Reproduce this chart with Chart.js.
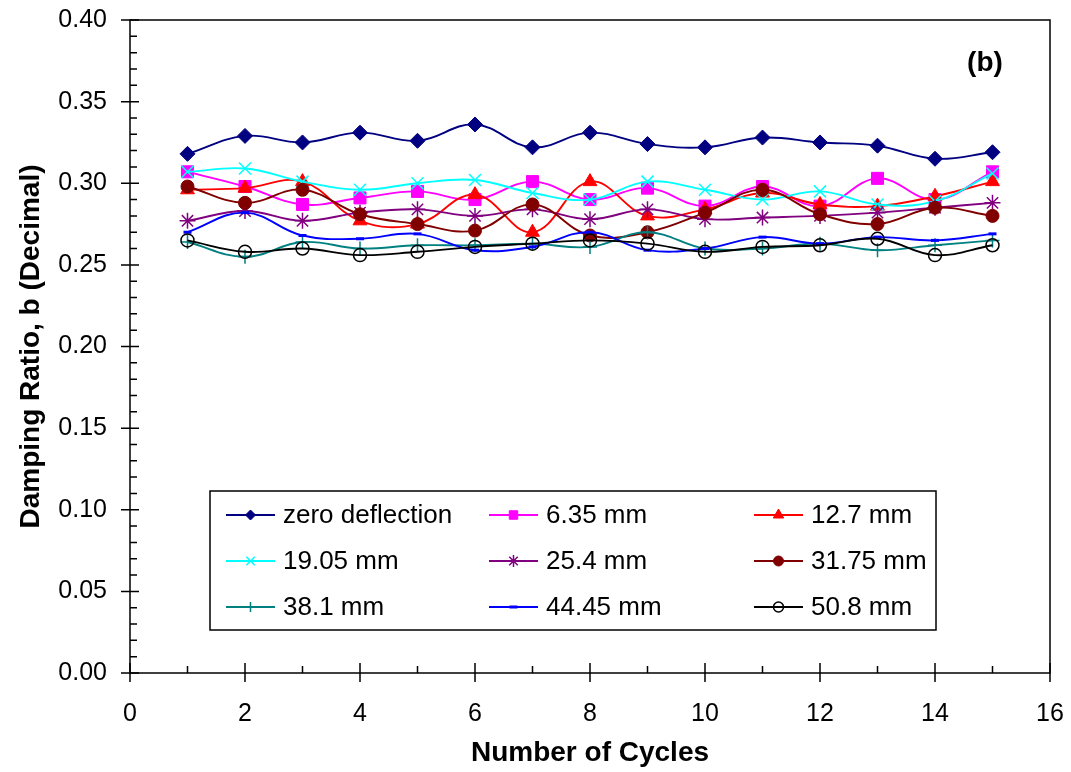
<!DOCTYPE html>
<html>
<head>
<meta charset="utf-8">
<script src="https://cdn.jsdelivr.net/npm/chart.js@4.4.1/dist/chart.umd.min.js"></script>
<style>
    body { margin: 0; background: #fff; }
    #wrap { width: 1071px; height: 772px; }
</style>
</head>
<body>
<div id="wrap"><canvas id="dampingChart"></canvas></div>
<script>
const cycles = [1, 2, 3, 4, 5, 6, 7, 8, 9, 10, 11, 12, 13, 14, 15];
const seriesLabels = ['zero deflection', '6.35 mm', '12.7 mm', '19.05 mm', '25.4 mm', '31.75 mm', '38.1 mm', '44.45 mm', '50.8 mm'];

const zeroDeflection = [0.318, 0.329, 0.325, 0.331, 0.326, 0.336, 0.322, 0.331, 0.324, 0.322, 0.328, 0.325, 0.323, 0.315, 0.319];
const mm635 = [0.307, 0.298, 0.287, 0.291, 0.295, 0.290, 0.301, 0.290, 0.297, 0.286, 0.298, 0.286, 0.303, 0.290, 0.307];
const mm127 = [0.296, 0.297, 0.301, 0.277, 0.275, 0.293, 0.270, 0.301, 0.280, 0.284, 0.294, 0.287, 0.286, 0.292, 0.301];
const mm1905 = [0.307, 0.309, 0.301, 0.296, 0.300, 0.302, 0.294, 0.290, 0.301, 0.296, 0.290, 0.295, 0.287, 0.289, 0.306];
const mm254 = [0.277, 0.283, 0.277, 0.282, 0.284, 0.280, 0.284, 0.278, 0.284, 0.278, 0.279, 0.280, 0.282, 0.285, 0.288];
const mm3175 = [0.298, 0.288, 0.296, 0.281, 0.275, 0.271, 0.287, 0.268, 0.270, 0.282, 0.296, 0.281, 0.275, 0.285, 0.280];
const mm381 = [0.264, 0.255, 0.264, 0.260, 0.262, 0.262, 0.263, 0.261, 0.270, 0.260, 0.260, 0.263, 0.259, 0.262, 0.265];
const mm4445 = [0.270, 0.282, 0.268, 0.266, 0.269, 0.259, 0.261, 0.270, 0.259, 0.260, 0.267, 0.263, 0.267, 0.265, 0.269];
const mm508 = [0.265, 0.258, 0.260, 0.256, 0.258, 0.261, 0.263, 0.265, 0.263, 0.258, 0.261, 0.262, 0.266, 0.256, 0.262];

const allValues = [zeroDeflection, mm635, mm127, mm1905, mm254, mm3175, mm381, mm4445, mm508];

const colors = ['#000080', '#FF00FF', '#FF0000', '#00FFFF', '#800080', '#800000', '#008080', '#0000FF', '#000000'];
const markers = [
    { style: 'rectRot', radius: 7.5, fill: true, bw: 1 },
    { style: 'rect', radius: 8.5, fill: true, bw: 1 },
    { style: 'triangle', radius: 8, fill: true, bw: 1 },
    { style: 'crossRot', radius: 8.5, fill: false, bw: 1.5 },
    { style: 'star', radius: 8, fill: false, bw: 1.5 },
    { style: 'circle', radius: 6.5, fill: true, bw: 1 },
    { style: 'cross', radius: 7, fill: false, bw: 1.5 },
    { style: 'line', radius: 4, fill: false, bw: 3 },
    { style: 'circle', radius: 6.5, fill: false, bw: 1.5 }
];

const FONT = "'Liberation Sans', Arial, sans-serif";

const datasets = allValues.map((vals, i) => ({
    label: seriesLabels[i],
    data: cycles.map((c, j) => ({ x: c, y: vals[j] })),
    borderColor: colors[i],
    backgroundColor: colors[i],
    borderWidth: 1.9,
    tension: 0.4,
    pointStyle: markers[i].style,
    pointRadius: markers[i].radius,
    pointHoverRadius: markers[i].radius,
    pointBackgroundColor: markers[i].fill ? colors[i] : 'rgba(0,0,0,0)',
    pointBorderColor: colors[i],
    pointBorderWidth: markers[i].bw,
    order: allValues.length - i
}));

// axis frame + tick marks like the excel plot
const framePlugin = {
    id: 'frame',
    afterDatasetsDraw(chart) {
        const ctx = chart.ctx;
        const a = chart.chartArea;
        const xs = chart.scales.x;
        const ys = chart.scales.y;
        ctx.save();
        ctx.strokeStyle = '#000';
        ctx.lineWidth = 1.5;
        ctx.strokeRect(a.left, a.top, a.right - a.left, a.bottom - a.top);
        ctx.beginPath();
        for (let v = 0; v <= 16; v++) {
            const px = xs.getPixelForValue(v);
            if (v % 2 === 0) {
                ctx.moveTo(px, a.bottom - 10);
                ctx.lineTo(px, a.bottom + 9);
            } else {
                ctx.moveTo(px, a.bottom - 7);
                ctx.lineTo(px, a.bottom);
            }
        }
        for (let k = 0; k <= 40; k++) {
            const py = ys.getPixelForValue(k / 100);
            if (k % 5 === 0) {
                ctx.moveTo(a.left - 9, py);
                ctx.lineTo(a.left + 9, py);
            } else {
                ctx.moveTo(a.left, py);
                ctx.lineTo(a.left + 7, py);
            }
        }
        ctx.stroke();

        ctx.fillStyle = '#000';
        ctx.font = 'bold 28px ' + FONT;
        ctx.textAlign = 'center';
        ctx.textBaseline = 'middle';
        ctx.fillText('(b)', 985, 63);
        ctx.restore();
    }
};

// legend box inside the plot area
const boxLegendPlugin = {
    id: 'boxLegend',
    afterDraw(chart) {
        const ctx = chart.ctx;
        const box = { left: 210, top: 491, right: 936, bottom: 630 };
        const colX = [226, 489, 754];
        const rowY = [515, 561, 607];
        ctx.save();
        ctx.fillStyle = '#fff';
        ctx.fillRect(box.left, box.top, box.right - box.left, box.bottom - box.top);
        ctx.strokeStyle = '#000';
        ctx.lineWidth = 1.5;
        ctx.strokeRect(box.left, box.top, box.right - box.left, box.bottom - box.top);

        chart.data.datasets.forEach((ds, i) => {
            const x0 = colX[i % 3];
            const y0 = rowY[Math.floor(i / 3)];
            ctx.strokeStyle = ds.borderColor;
            ctx.lineWidth = 1.8;
            ctx.beginPath();
            ctx.moveTo(x0, y0);
            ctx.lineTo(x0 + 49, y0);
            ctx.stroke();

            ctx.fillStyle = ds.pointBackgroundColor;
            ctx.strokeStyle = ds.pointBorderColor;
            ctx.lineWidth = ds.pointBorderWidth;
            Chart.helpers.drawPoint(ctx, {
                pointStyle: ds.pointStyle,
                radius: ds.pointStyle === 'line' ? 4 : Math.round(ds.pointRadius * 0.72),
                rotation: 0,
                borderWidth: ds.pointBorderWidth
            }, x0 + 24.5, y0);

            ctx.fillStyle = '#000';
            ctx.font = '26px ' + FONT;
            ctx.textAlign = 'left';
            ctx.textBaseline = 'middle';
            ctx.fillText(ds.label, x0 + 57, y0 + 1);
        });
        ctx.restore();
    }
};

new Chart(document.getElementById('dampingChart'), {
    type: 'line',
    data: {
        datasets: datasets
    },
    options: {
        responsive: true,
        maintainAspectRatio: false,
        animation: false,
        layout: {
            padding: { top: 20, right: 21, left: 0, bottom: 0 }
        },
        scales: {
            x: {
                type: 'linear',
                min: 0,
                max: 16,
                grid: { display: false, drawTicks: false },
                border: { display: false },
                ticks: {
                    stepSize: 2,
                    color: '#000',
                    padding: 26,
                    font: { family: FONT, size: 25 }
                },
                title: {
                    display: true,
                    text: 'Number of Cycles',
                    color: '#000',
                    font: { family: FONT, size: 28, weight: 'bold' },
                    padding: { top: 4, bottom: 2 }
                },
                afterFit(scale) {
                    scale.height = 99;
                    scale.paddingLeft = 0;
                    scale.paddingRight = 0;
                }
            },
            y: {
                min: 0,
                max: 0.4,
                grid: { display: false, drawTicks: false },
                border: { display: false },
                ticks: {
                    stepSize: 0.05,
                    color: '#000',
                    padding: 23,
                    font: { family: FONT, size: 25 },
                    callback: value => value.toFixed(2)
                },
                title: {
                    display: true,
                    text: 'Damping Ratio, b (Decimal)',
                    color: '#000',
                    font: { family: FONT, size: 28, weight: 'bold' },
                    padding: { top: 14, bottom: 0 }
                },
                afterFit(scale) {
                    scale.width = 130;
                    scale.paddingTop = 0;
                    scale.paddingBottom = 0;
                }
            }
        },
        plugins: {
            legend: { display: false },
            tooltip: { enabled: false }
        }
    },
    plugins: [framePlugin, boxLegendPlugin]
});
</script>
</body>
</html>
